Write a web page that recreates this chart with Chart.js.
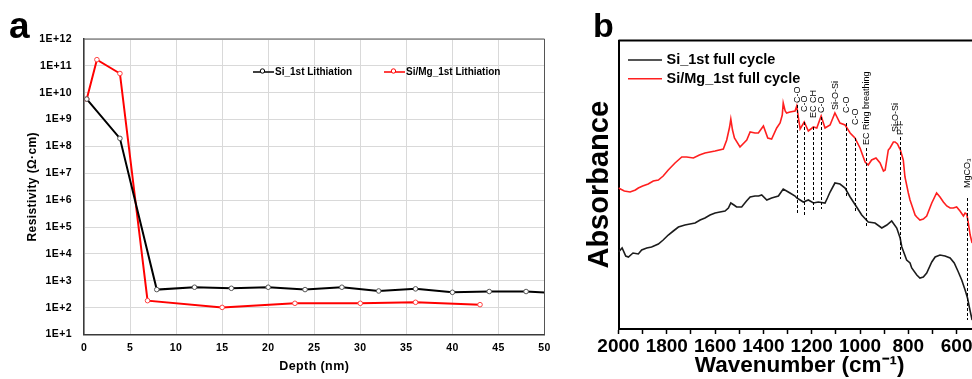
<!DOCTYPE html>
<html lang="en">
  <head>
    <meta charset="UTF-8" />
    <title>Resistivity depth profile and FTIR spectra</title>
    <style>
      html, body { margin: 0; padding: 0; background: #fff; overflow: hidden; }
      body { width: 972px; height: 379px; position: relative; font-family: "Liberation Sans", Arial, sans-serif; }
      .panel { position: absolute; top: 0; height: 379px; }
      #panelA { left: 0; width: 560px; }
      #panelB { left: 560px; width: 440px; }
      .tag { position: absolute; font-weight: bold; color: #000; line-height: 1; }
      #tagA { left: 9px; top: 7px; font-size: 37px; }
      #tagB { left: 593px; top: 8px; font-size: 34px; }
    </style>
    <script src="https://cdn.jsdelivr.net/npm/chart.js"></script>
  </head>
  <body>
    <div id="panelA" class="panel"><canvas id="chartA" width="560" height="379"></canvas></div>
    <div id="panelB" class="panel"><canvas id="chartB" width="440" height="379"></canvas></div>
    <div id="tagA" class="tag">a</div>
    <div id="tagB" class="tag">b</div>

    <script>
      // (a) resistivity vs depth, log scale
      const depthTicks = [0, 5, 10, 15, 20, 25, 30, 35, 40, 45, 50];
      const decadeExponents = [1, 2, 3, 4, 5, 6, 7, 8, 9, 10, 11, 12];

      const depthSi = [0.3, 3.9, 7.9, 12, 16, 20, 24, 28, 32, 36, 40, 44, 48, 50];
      const resistSi = [5.8e9, 2e8, 470, 575, 525, 575, 470, 575, 417, 500, 372, 398, 398, 363];

      const depthSiMg = [0.3, 1.4, 3.9, 6.9, 15, 22.9, 30, 36, 43];
      const resistSiMg = [5.8e9, 1.7e11, 5.2e10, 182, 102, 145, 145, 158, 129];

      // (b) FTIR absorbance (arbitrary units) vs wavenumber
      const wavenumberTicks = [2000, 1800, 1600, 1400, 1200, 1000, 800, 600];

      const wnSi = [2000, 1985, 1970, 1959, 1940, 1918, 1904, 1883, 1863, 1835, 1815, 1794, 1773, 1752, 1725,
        1704, 1683, 1662, 1642, 1621, 1600, 1580, 1559, 1545, 1535, 1522, 1511, 1490, 1470, 1455,
        1435, 1420, 1407, 1386, 1366, 1352, 1338, 1318, 1297, 1290, 1269, 1262, 1248, 1235, 1214,
        1193, 1173, 1145, 1135, 1124, 1104, 1083, 1062, 1041, 1014, 993, 966, 938, 910, 889,
        869, 848, 834, 827, 807, 793, 786, 765, 752, 738, 724, 703, 689, 669, 648,
        627, 610, 593, 579, 565, 555, 545, 536];
      const absSi = [0.77, 0.81, 0.73, 0.72, 0.76, 0.75, 0.79, 0.81, 0.82, 0.85, 0.89, 0.94, 0.98, 1.02, 1.04,
        1.05, 1.06, 1.09, 1.11, 1.14, 1.16, 1.17, 1.18, 1.21, 1.26, 1.24, 1.22, 1.22, 1.28, 1.32,
        1.33, 1.33, 1.34, 1.29, 1.31, 1.32, 1.33, 1.40, 1.37, 1.36, 1.33, 1.31, 1.29, 1.27, 1.29,
        1.26, 1.27, 1.26, 1.31, 1.37, 1.46, 1.45, 1.41, 1.32, 1.22, 1.14, 1.07, 1.06, 1.01, 1.04,
        1.08, 1.01, 0.91, 0.82, 0.69, 0.66, 0.61, 0.54, 0.51, 0.52, 0.56, 0.67, 0.72, 0.74, 0.73,
        0.71, 0.66, 0.57, 0.49, 0.39, 0.31, 0.19, 0.09];

      const wnSiMg = [2000, 1976, 1952, 1930, 1918, 1900, 1877, 1856, 1835, 1815, 1794, 1766, 1738, 1718, 1690,
        1665, 1642, 1600, 1566, 1552, 1540, 1535, 1528, 1520, 1497, 1469, 1455, 1435, 1421, 1400,
        1382, 1366, 1345, 1331, 1322, 1318, 1310, 1304, 1290, 1269, 1262, 1255, 1248, 1231, 1214,
        1193, 1179, 1161, 1145, 1124, 1104, 1083, 1062, 1041, 1021, 1000, 979, 966, 952, 934,
        917, 903, 896, 883, 876, 862, 855, 845, 837, 834, 821, 814, 800, 793, 779,
        772, 765, 752, 738, 724, 703, 683, 669, 655, 641, 627, 614, 600, 586, 572,
        565, 558, 551, 544, 536];
      const absSiMg = [1.41, 1.38, 1.37, 1.39, 1.41, 1.43, 1.45, 1.48, 1.49, 1.53, 1.59, 1.66, 1.72, 1.72, 1.71,
        1.74, 1.76, 1.78, 1.80, 1.89, 2.02, 2.10, 1.99, 1.91, 1.82, 1.89, 1.97, 1.96, 1.96, 2.03,
        1.91, 1.90, 2.01, 2.06, 2.14, 2.26, 2.18, 2.16, 2.17, 2.18, 2.23, 2.11, 2.00, 2.07, 1.98,
        2.02, 2.01, 2.13, 2.01, 2.04, 2.16, 2.06, 2.04, 1.96, 1.91, 1.81, 1.67, 1.64, 1.69, 1.71,
        1.66, 1.58, 1.59, 1.79, 1.81, 1.87, 1.87, 1.85, 1.81, 1.80, 1.69, 1.52, 1.36, 1.29, 1.19,
        1.14, 1.12, 1.09, 1.10, 1.13, 1.26, 1.36, 1.32, 1.27, 1.23, 1.21, 1.21, 1.22, 1.18, 1.13,
        1.16, 1.15, 1.05, 0.94, 0.86];

      // band assignments: label, where the label starts, dashed marker span (null = no marker)
      const bandWn = [1262, 1231, 1193, 1161, 1104, 1059, 1021, 976, 855, 834, 558];
      const bandLabel = ["C-O", "C-O", "EC CH", "C-O", "Si-O-Si", "C-O", "C-O", "EC Ring breathing", "Si-O-Si", "P-F", "MgCO\u2083"];
      const bandLabelAt = [2.26, 2.17, 2.11, 2.16, 2.19, 2.16, 2.04, 1.84, 1.97, 1.94, 1.41];
      const bandLineTop = [2.24, 2.07, 2.02, 2.12, null, 2.06, 1.91, 1.81, null, 1.92, 1.31];
      const bandLineBottom = [1.15, 1.12, 1.18, 1.20, null, 1.33, 1.18, 1.01, null, 0.70, 0.09];

      const toPoints = (xs, ys) => xs.map((x, i) => ({ x: x, y: ys[i] }));

      const SANS = "'Liberation Sans', Arial, sans-serif";

      // canvas letter spacing for the spaced-out axis text
      const letterSpacing = {
        id: "letterSpacing",
        beforeDraw(chart, args, opts) {
          chart.ctx.letterSpacing = opts.value || "0px";
        },
      };

      // box around the plot area (top and right edges)
      const plotFrame = {
        id: "plotFrame",
        afterDraw(chart, args, opts) {
          const { ctx, chartArea: a } = chart;
          ctx.save();
          ctx.strokeStyle = opts.color;
          ctx.lineWidth = opts.width;
          ctx.beginPath();
          ctx.moveTo(a.left, a.top);
          ctx.lineTo(a.right, a.top);
          ctx.lineTo(a.right, a.bottom);
          ctx.stroke();
          ctx.restore();
        },
      };

      // legend drawn inside the plot area
      const insideLegend = {
        id: "insideLegend",
        afterDraw(chart, args, opts) {
          const { ctx, chartArea: a } = chart;
          ctx.save();
          ctx.letterSpacing = "0px";
          ctx.font = opts.font;
          ctx.textBaseline = "middle";
          chart.data.datasets.forEach((ds, i) => {
            const x = a.left + opts.x[i];
            const y = a.top + opts.y[i];
            ctx.strokeStyle = ds.borderColor;
            ctx.lineWidth = opts.lineWidth;
            ctx.beginPath();
            ctx.moveTo(x, y);
            ctx.lineTo(x + opts.length, y);
            ctx.stroke();
            if (opts.marker) {
              ctx.fillStyle = "#fff";
              ctx.lineWidth = 1;
              ctx.beginPath();
              ctx.arc(x + opts.length * 0.45, y - 1, 2.2, 0, Math.PI * 2);
              ctx.fill();
              ctx.stroke();
            }
            ctx.fillStyle = "#000";
            ctx.fillText(ds.label, x + opts.length + opts.gap, y);
          });
          ctx.restore();
        },
      };

      // dashed band markers with vertical labels
      const bandMarks = {
        id: "bandMarks",
        afterDatasetsDraw(chart) {
          const { ctx, scales } = chart;
          const xs = scales.x, ys = scales.y;
          ctx.save();
          ctx.strokeStyle = "#000";
          ctx.fillStyle = "#000";
          ctx.lineWidth = 1;
          ctx.setLineDash([3, 2]);
          ctx.font = "9px " + SANS;
          bandWn.forEach((w, i) => {
            const x = Math.round(xs.getPixelForValue(w)) + 0.5;
            if (bandLineTop[i] !== null) {
              ctx.beginPath();
              ctx.moveTo(x, ys.getPixelForValue(bandLineTop[i]));
              ctx.lineTo(x, ys.getPixelForValue(bandLineBottom[i]));
              ctx.stroke();
            }
            ctx.save();
            ctx.translate(x, ys.getPixelForValue(bandLabelAt[i]));
            ctx.rotate(-Math.PI / 2);
            ctx.textAlign = "left";
            ctx.textBaseline = "middle";
            ctx.fillText(bandLabel[i], 0, 0);
            ctx.restore();
          });
          ctx.restore();
        },
      };

      const boldFont = (size) => ({ family: SANS, size: size, weight: "bold" });

      new Chart(document.getElementById("chartA"), {
        type: "line",
        data: {
          datasets: [
            {
              label: "Si_1st Lithiation",
              data: toPoints(depthSi, resistSi),
              borderColor: "#000",
              borderWidth: 2,
              pointRadius: depthSi.map((d) => (d === 50 ? 0 : 2.3)),
              pointBorderWidth: 1,
              pointBorderColor: "#555",
              pointBackgroundColor: "#fff",
            },
            {
              label: "Si/Mg_1st Lithiation",
              data: toPoints(depthSiMg, resistSiMg),
              borderColor: "#ff0000",
              borderWidth: 2,
              pointRadius: 2.3,
              pointBorderWidth: 1,
              pointBorderColor: "#ff4040",
              pointBackgroundColor: "#fff",
            },
          ],
        },
        options: {
          responsive: false,
          animation: false,
          layout: { padding: { top: 39, right: 15.5, left: 0, bottom: 0 } },
          plugins: {
            legend: { display: false },
            tooltip: { enabled: false },
            letterSpacing: { value: "0.4px" },
            plotFrame: { color: "#555", width: 1 },
            insideLegend: {
              x: [169, 300], y: [33, 33], length: 21, gap: 1, lineWidth: 1.5, marker: true,
              font: "bold 10px " + SANS,
            },
          },
          scales: {
            x: {
              type: "linear",
              min: 0,
              max: 50,
              afterFit: (s) => { s.height = 44.5; },
              afterBuildTicks: (s) => { s.ticks = depthTicks.map((v) => ({ value: v })); },
              ticks: { font: boldFont(10.5), color: "#000", padding: 7, maxRotation: 0, autoSkip: false },
              grid: { color: "#d9d9d9", drawTicks: false },
              border: { color: "#3a3a3a", width: 1.5 },
              title: { display: true, text: "Depth (nm)", font: boldFont(12.5), color: "#000", padding: { top: 0, bottom: 4.5 } },
            },
            y: {
              type: "logarithmic",
              min: 10,
              max: 1e12,
              afterFit: (s) => { s.width = 84; },
              afterBuildTicks: (s) => { s.ticks = decadeExponents.map((e) => ({ value: Math.pow(10, e) })); },
              ticks: {
                font: boldFont(10.5),
                color: "#000",
                padding: 12,
                callback: (v) => "1E+" + Math.round(Math.log10(v)),
              },
              grid: { color: "#d9d9d9", drawTicks: false },
              border: { color: "#3a3a3a", width: 1.5 },
              title: { display: true, text: "Resistivity (\u03a9\u00b7cm)", font: boldFont(12), color: "#000", padding: { top: 25, bottom: 0 } },
            },
          },
        },
        plugins: [letterSpacing, plotFrame, insideLegend],
      });

      new Chart(document.getElementById("chartB"), {
        type: "line",
        data: {
          datasets: [
            {
              label: "Si_1st full cycle",
              data: toPoints(wnSi, absSi),
              borderColor: "#1c1c1c",
              borderWidth: 1.6,
              pointRadius: 0,
            },
            {
              label: "Si/Mg_1st full cycle",
              data: toPoints(wnSiMg, absSiMg),
              borderColor: "#ff1f1f",
              borderWidth: 1.6,
              pointRadius: 0,
            },
          ],
        },
        options: {
          responsive: false,
          animation: false,
          layout: { padding: { top: 40.5, right: 19.2, left: 0, bottom: 0 } },
          plugins: {
            legend: { display: false },
            tooltip: { enabled: false },
            plotFrame: { color: "#000", width: 2 },
            insideLegend: {
              x: [9.5, 9.5], y: [19.5, 38.2], length: 34, gap: 4.5, lineWidth: 1.6, marker: false,
              font: "bold 14.5px " + SANS,
            },
          },
          scales: {
            x: {
              type: "linear",
              reverse: true,
              min: 500,
              max: 2000,
              afterFit: (s) => { s.height = 50; },
              afterBuildTicks: (s) => {
                const t = [];
                for (let v = 2000; v >= 500; v -= 100) t.push({ value: v });
                s.ticks = t;
              },
              ticks: {
                font: boldFont(19),
                color: "#000",
                padding: 1,
                maxRotation: 0,
                autoSkip: false,
                callback: (v) => (wavenumberTicks.includes(v) ? String(v) : ""),
              },
              grid: { drawOnChartArea: false, drawTicks: true, tickLength: 5, tickColor: "#000", tickWidth: 1.5 },
              border: { color: "#000", width: 2 },
              title: { display: true, text: "Wavenumber (cm\u207b\u00b9)", font: boldFont(22.5), color: "#000", padding: { top: 0, bottom: 0 } },
            },
            y: {
              min: 0,
              max: 2.885,
              afterFit: (s) => { s.width = 58.5; },
              ticks: { display: false },
              grid: { display: false },
              border: { color: "#000", width: 2 },
              title: { display: true, text: "Absorbance", font: boldFont(29), color: "#000", padding: { top: 22.6, bottom: 0 } },
            },
          },
        },
        plugins: [plotFrame, insideLegend, bandMarks],
      });
    </script>
  </body>
</html>
